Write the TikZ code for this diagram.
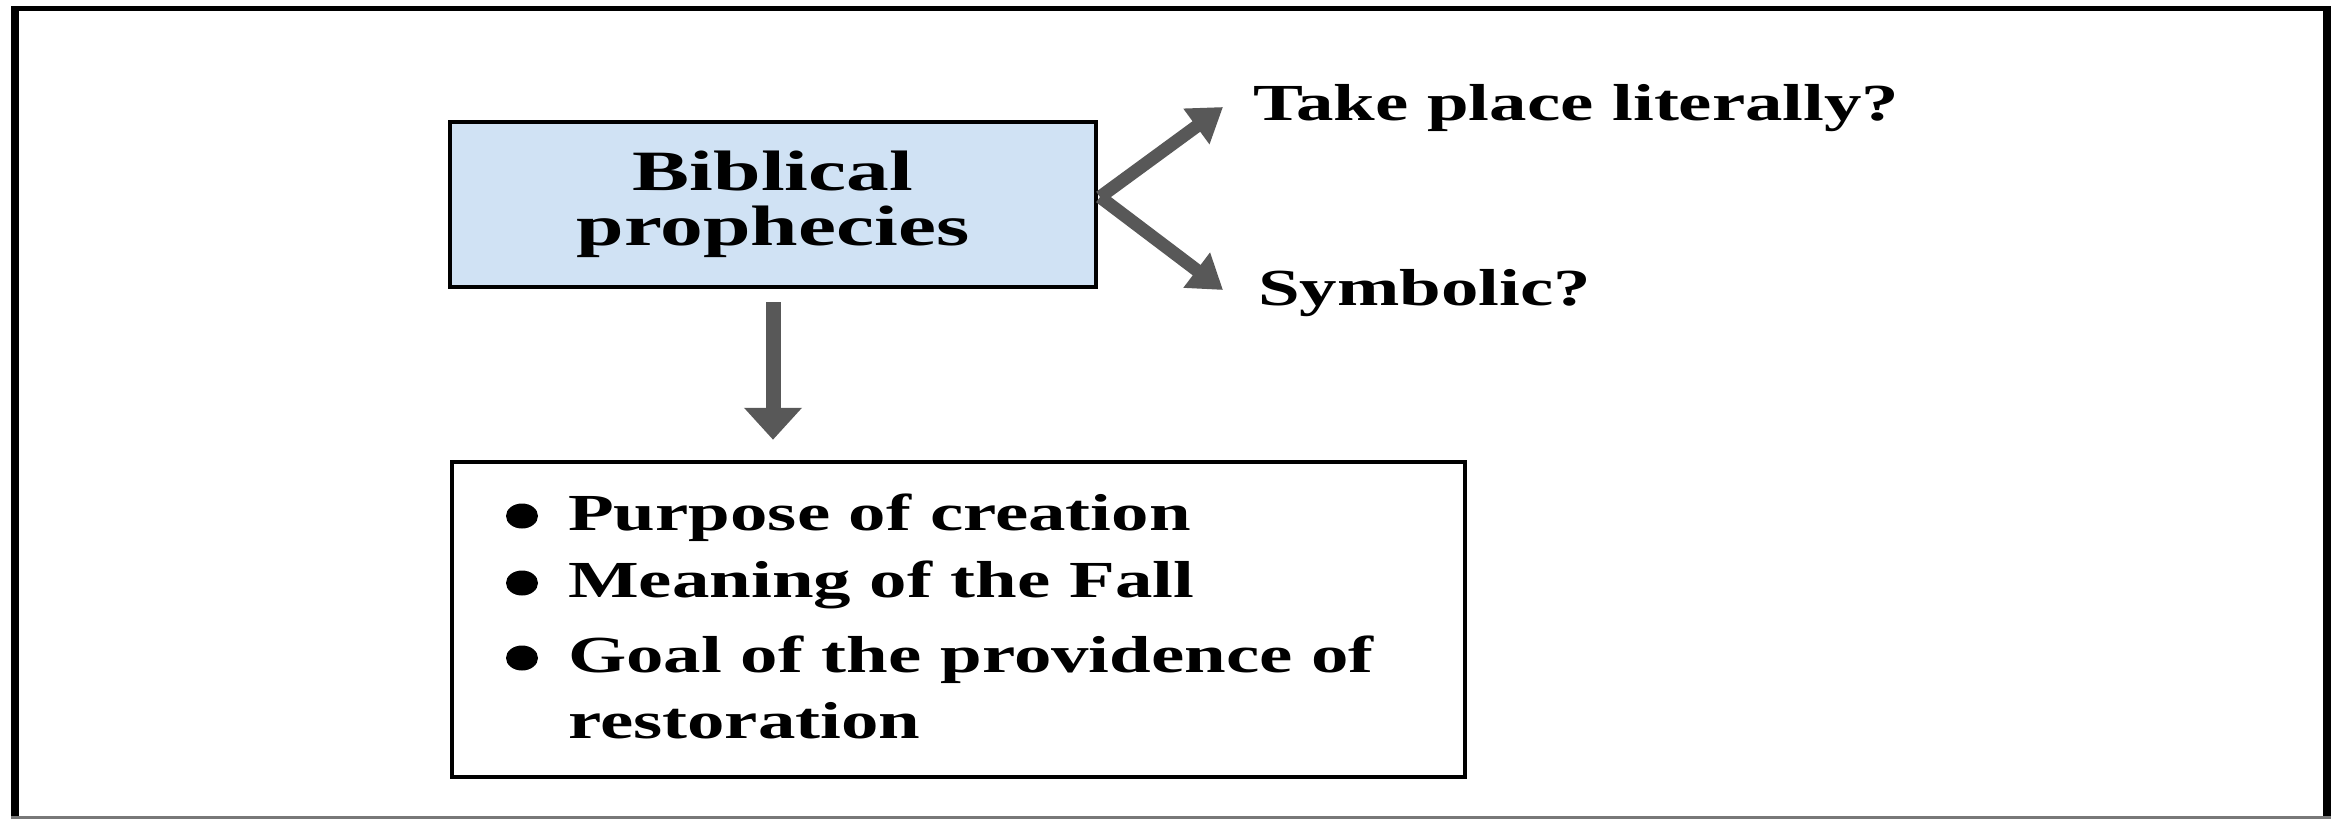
\documentclass[tikz,border=0pt]{standalone}
\usepackage{fontspec}
\setmainfont{Liberation Serif}[FakeStretch=1.5]
\newfontfamily\lblfont{Liberation Serif}[FakeStretch=1.44]
\usetikzlibrary{arrows.meta,shapes.geometric}
\definecolor{boxblue}{RGB}{208,226,244}
\definecolor{arrowgray}{RGB}{88,88,88}
\definecolor{framegray}{RGB}{120,120,120}
\begin{document}
\begin{tikzpicture}[x=1pt,y=-1pt,
  mainbox/.style={draw=black, line width=4.5pt, fill=boxblue, minimum width=646pt, minimum height=165pt, inner sep=0pt, align=center, font=\fontsize{57}{55}\selectfont\bfseries},
  listbox/.style={draw=black, line width=4.5pt, minimum width=1013pt, minimum height=315pt, inner sep=0pt},
  lbl/.style={anchor=base west, inner sep=0pt, font=\lblfont\fontsize{52}{55}\selectfont\bfseries},
  dot/.style={ellipse, fill=black, minimum width=32pt, minimum height=25pt, inner sep=0pt},
  bigarrow/.style={draw=arrowgray, line width=15pt, -{Triangle[width=56pt,length=32pt]}},
  diagarrow/.style={draw=arrowgray, line width=13pt, -{Triangle[width=42pt,length=33pt]}},
  frameline/.style={draw=black, line width=8pt},
]
\useasboundingbox (0,0) rectangle (2338,820);
\fill[white] (0,0) rectangle (2338,820);
% outer frame
\draw[frameline] (15,817) -- (15,8.5);
\draw[draw=black, line width=5pt] (11,8.5) -- (2331,8.5);
\draw[frameline] (2327,6) -- (2327,817);
\draw[draw=framegray, line width=2.5pt] (11,817.5) -- (2331,817.5);

% main box
\node[mainbox] (main) at (773,204.5) {Biblical\\prophecies};

% right labels
\node[lbl] (lit) at (1253,120) {Take place literally?};
\node[lbl] (sym) at (1258,305) {Symbolic?};
\coordinate (v) at (1100,197);
\coordinate (tA) at (1223,107);
\coordinate (tS) at (1223,290);
\draw[diagarrow] (v) -- (tA);
\draw[diagarrow] (v) -- (tS);

% list box
\node[listbox] (list) at (958.5,619.5) {};
\draw[bigarrow, shorten <=13pt, shorten >=20pt] (main.south) -- (main.south |- list.north);

\node[dot] (b1) at (522,516) {};
\node[dot] (b2) at (522,583) {};
\node[dot] (b3) at (522,658) {};
\node[lbl] (l1) at (568,530) {Purpose of creation};
\node[lbl] (l2) at (568,597) {Meaning of the Fall};
\node[lbl] (l3) at (568,672) {Goal of the providence of};
\node[lbl] (l4) at (568,738) {restoration};
\end{tikzpicture}
\end{document}
